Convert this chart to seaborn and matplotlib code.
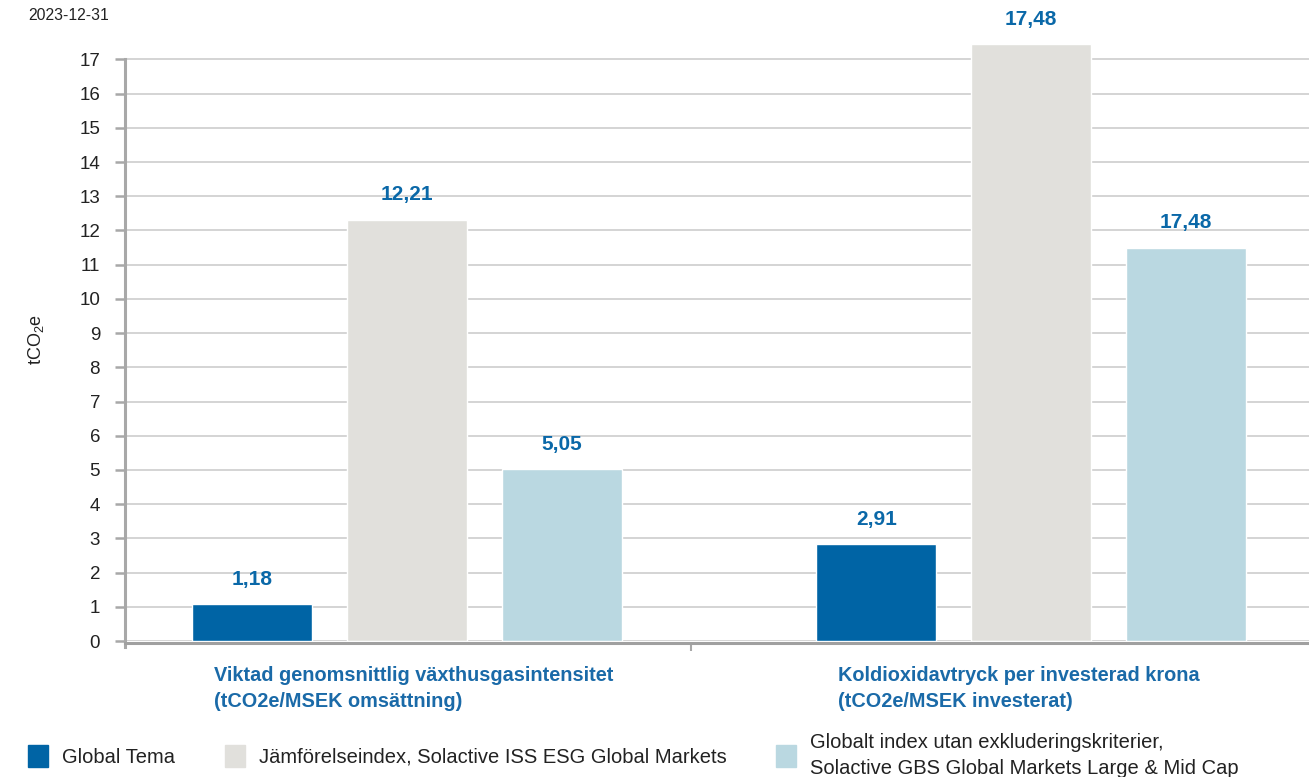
import pandas as pd
import matplotlib.pyplot as plt
import seaborn as sns

# data
kategorier = ['Viktad genomsnittlig växthusgasintensitet\n(tCO2e/MSEK omsättning)',
              'Koldioxidavtryck per investerad krona\n(tCO2e/MSEK investerat)']
serier = ['Global Tema',
          'Jämförelseindex, Solactive ISS ESG Global Markets',
          'Globalt index utan exkluderingskriterier,\nSolactive GBS Global Markets Large & Mid Cap']
global_tema = [1.07, 2.84]
jamforelseindex = [12.32, 17.44]
globalt_index = [5.03, 11.5]
etiketter = [['1,18', '2,91'], ['12,21', '17,48'], ['5,05', '17,48']]
farger = ['#0064a5', '#e1e0dc', '#bad8e1']
yticks = list(range(0, 18))

rows = []
for s, vals in zip(serier, [global_tema, jamforelseindex, globalt_index]):
    for k, v in zip(kategorier, vals):
        rows.append({'kategori': k, 'serie': s, 'varde': v})
df = pd.DataFrame(rows)

sns.set_style('white')
plt.rcParams['font.family'] = ['Liberation Sans', 'DejaVu Sans']

fig = plt.figure(figsize=(13.09, 7.77), dpi=100)
ax = fig.add_axes([0.0955, 0.175, 0.9045, 0.775])

sns.barplot(data=df, x='kategori', y='varde', hue='serie', palette=farger,
            width=0.745, gap=0.226, ax=ax, legend=False, saturation=1)

# värdeetiketter
for cont, labs in zip(ax.containers, etiketter):
    for bar, lab in zip(cont, labs):
        ax.annotate(lab, (bar.get_x() + bar.get_width() / 2, bar.get_height()),
                    xytext=(0, 11), textcoords='offset points', ha='center', va='bottom',
                    fontsize=15, fontweight='bold', color='#0a68a8', annotation_clip=False)

ax.set_ylim(0, 17.6)
ax.set_xlim(-0.452, 1.445)
ax.set_yticks(yticks)
ax.set_yticklabels([str(t) for t in yticks], fontsize=13.5, color='#222222')
ax.yaxis.grid(True, color='#c9c9c9', lw=1.1)
ax.set_axisbelow(True)
ax.tick_params(axis='y', length=7, width=1.8, color='#a8a8a8', pad=11, left=True)

ax.set_xticks([0.455])
ax.set_xticklabels([''])
ax.tick_params(axis='x', length=6, width=1.5, color='#a8a8a8', bottom=True)
ax.set_xlabel('')
ax.set_ylabel(r'tCO$_\mathregular{2}$e', fontsize=13, labelpad=24, color='#222222')

for side in ['top', 'right']:
    ax.spines[side].set_visible(False)
ax.spines['left'].set_color('#a8a8a8')
ax.spines['left'].set_linewidth(2.2)
ax.spines['left'].set_bounds(-0.17, 17)
ax.spines['bottom'].set_color('#a0a0a0')
ax.spines['bottom'].set_linewidth(2.2)
ax.spines['bottom'].set_position(('outward', 1.5))

# kategoritexter under axeln
for i, k in enumerate(kategorier):
    ax.annotate(k, (i - 0.31, 0), xytext=(0, -18), textcoords='offset points',
                ha='left', va='top', fontsize=14.3, fontweight='bold', color='#1a6aa8',
                linespacing=1.45, annotation_clip=False)

fig.text(28 / 1309, 1 - 15 / 777, '2023-12-31', fontsize=11.3, color='#222222', va='center')

handles = [plt.Rectangle((0, 0), 1, 1, color=c) for c in farger]
leg = fig.legend(handles, serier, loc='upper left', bbox_to_anchor=(28 / 1309, 1 - 733 / 777),
                 ncol=3, frameon=False, fontsize=14.5, handlelength=1.0, handleheight=1.25,
                 handletextpad=0.7, columnspacing=2.45, borderpad=0, borderaxespad=0,
                 labelcolor='#222222')
leg.get_texts()[2].set_linespacing(1.45)

fig.savefig('out.png', dpi=100)
